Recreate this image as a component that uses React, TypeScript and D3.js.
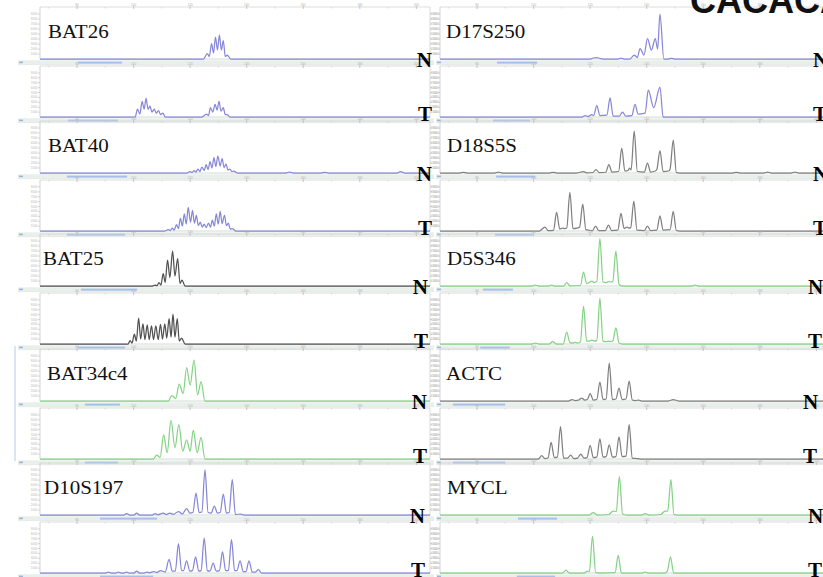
import * as d3 from "d3";

// marker names, left and right column
const leftMarkers = ["BAT26", "BAT40", "BAT25", "BAT34c4", "D10S197"];
const rightMarkers = ["D17S250", "D18S5S", "D5S346", "ACTC", "MYCL"];
const leftDyes = ["blue", "blue", "black", "green", "blue"];
const rightDyes = ["blue", "gray", "green", "gray", "green"];

// traces: [relative size (0-100), relative intensity (0-100)]
const bat26N = [[41.9,0],[42.9,11],[43.4,5],[44.0,31],[44.5,12],[45.0,44],[45.5,18],[46.0,48],[46.5,18],[47.0,37],[47.5,5],[48.0,8],[48.9,0]];
const bat26T = [[24.4,0],[25.0,16],[25.6,6],[26.2,32],[26.7,16],[27.2,38],[27.7,16],[28.2,22],[28.7,10],[29.3,16],[29.8,8],[30.4,13],[30.9,5],[31.5,8],[32.1,0],[41.5,0],[42.7,6],[43.2,3],[43.7,19],[44.3,10],[44.9,26],[45.4,14],[45.9,32],[46.4,12],[47.0,19],[47.5,5],[48.0,5],[48.7,0]];
const bat40N = [[37.6,0],[38.5,3],[39.0,1],[39.5,5],[40.0,2],[40.5,8],[41.0,3],[41.5,12],[42.1,5],[42.6,17],[43.1,7],[43.6,23],[44.1,10],[44.6,31],[45.1,13],[45.6,34],[46.2,14],[46.7,29],[47.2,11],[47.7,18],[48.2,6],[48.7,8],[49.2,3],[49.7,4],[50.6,0],[63,0],[64,2],[65,0],[72,0],[73,1.5],[74,0],[91.5,0],[92.5,3],[93.5,0]];
const bat40T = [[32.0,0],[32.9,3],[33.4,1],[33.9,6],[34.4,2],[35.0,13],[35.5,5],[36.0,26],[36.5,10],[37.0,35],[37.5,14],[38.0,48],[38.6,18],[39.1,42],[39.6,16],[40.1,32],[40.6,11],[41.1,18],[41.6,8],[42.1,14],[42.6,7],[43.2,16],[43.7,8],[44.2,22],[44.7,10],[45.2,35],[45.7,14],[46.2,40],[46.7,15],[47.3,32],[47.8,11],[48.3,16],[48.8,4],[49.3,5],[50.2,0]];
const bat25N = [[28.8,0],[29.5,2],[30.0,0.5],[30.5,7],[31.0,2],[31.6,25],[32.1,7],[32.7,52],[33.3,17],[34.0,70],[34.6,20],[35.3,55],[35.9,5],[36.4,12],[37.2,0]];
const bat25T = [[22.6,0],[23.1,7],[23.6,2],[24.2,20],[24.7,6],[25.3,53],[25.8,10],[26.4,41],[26.9,9],[27.5,39],[28.0,9],[28.6,37],[29.1,9],[29.7,37],[30.3,9],[30.9,40],[31.4,10],[32.0,41],[32.5,12],[33.1,52],[33.6,14],[34.1,61],[34.6,14],[35.2,52],[35.7,6],[36.3,12],[37.2,0]];
const bat34N = [[32.9,0],[33.8,11],[34.8,5],[35.7,34],[36.7,15],[37.6,67],[38.5,32],[39.5,82],[40.4,12],[41.3,39],[42.3,0]];
const bat34T = [[29.1,0],[29.9,8],[30.8,3],[31.7,49],[32.6,13],[33.6,79],[34.6,23],[35.6,70],[36.6,16],[37.6,39],[38.5,16],[39.3,59],[40.3,13],[41.3,44],[42.3,0]];
const d10N = [[21.5,0],[22.2,3],[23,0],[24.1,0],[24.8,4],[25.5,0],[28.8,0],[29.5,3],[30.2,0.5],[31.6,4],[32.4,1],[33.3,4],[34.2,1.5],[35.5,7],[36.5,2],[37.6,13],[38.4,4],[39.2,5],[40.0,44],[40.8,5],[41.5,6],[42.3,90],[43.1,5],[43.9,4],[44.7,18],[45.5,4],[46.2,5],[47.0,42],[47.8,4],[48.5,5],[49.3,71],[50.1,1],[51.5,2],[52.3,0]];
const d10T = [[16.8,0],[17.5,2],[18.3,0],[19.4,0],[20.1,2],[20.8,0],[21.5,0],[22.2,2],[22.9,0],[24.1,0],[24.8,4],[25.5,0],[26.7,0],[27.4,2],[28.1,0.5],[29.1,3],[30.0,1],[30.9,5],[32.1,2],[33.1,28],[33.9,4],[34.7,4],[35.5,60],[36.3,5],[36.8,5],[37.6,25],[38.4,4],[39.1,5],[39.9,33],[40.7,4],[41.3,5],[42.1,71],[42.9,5],[43.6,4],[44.4,20],[45.2,4],[46.0,5],[46.8,43],[47.6,5],[48.3,5],[49.1,68],[49.9,5],[50.5,5],[51.3,25],[52.1,3],[52.8,3],[53.6,25],[54.4,2],[55.2,2],[56.0,7],[56.8,0]];

const d17N = [[38.5,0],[39.3,2],[40.2,3],[41.0,1],[42,0],[45.6,0],[46.4,2],[47.2,0],[48.7,0],[49.8,8],[50.6,3],[51.3,21],[52.3,8],[53.2,41],[54.2,18],[55.2,41],[55.8,20],[56.4,90],[57.4,0],[58.5,0],[59.3,1.5],[60.2,0]];
const d17T = [[36.4,0],[37.2,3],[38.0,1],[38.9,5],[39.4,3],[40.2,23],[41.0,3],[42.8,4],[43.6,39],[44.4,2],[46.0,2],[46.8,10],[47.6,2],[49.2,3],[50.0,26],[50.8,6],[52.6,8],[53.4,55],[54.8,19],[56.4,61],[57.2,0]];
const d18N = [[5,0],[6,1.5],[7,0],[14,0],[15,2],[16,0],[28,0],[29,1.5],[30,0],[35.0,0],[36.8,3],[37.6,0.5],[39.2,1],[40.0,7],[40.8,1],[42.5,1.5],[43.3,17],[44.1,2],[45.8,3],[46.6,50],[47.4,4],[48.2,5],[48.6,10],[49.0,6],[49.8,84],[50.6,3],[52.4,2],[53.2,20],[54.0,2],[55.2,4],[55.6,7],[56.4,45],[57.2,3],[58.6,4],[59.0,8],[59.8,66],[60.6,1],[61.5,0],[75,0],[76,1.5],[77,0],[83,0],[84,2],[85,0],[90,0],[91,2],[92,0]];
const d18T = [[25.5,0],[26.9,8],[27.7,1],[29.1,1.5],[29.9,38],[30.7,4],[31.5,6],[32.0,5],[32.5,6],[33.3,79],[34.1,5],[35.2,6],[35.8,8],[36.6,55],[37.4,3],[39.1,1],[39.9,10],[40.7,1],[42.4,1],[43.2,12],[44.0,1],[45.6,2],[46.4,36],[47.2,5],[48.0,8],[48.4,6],[48.9,7],[49.7,61],[50.5,2],[52.4,1],[53.2,10],[54.0,1],[55.6,2],[56.4,31],[57.2,2],[59.0,3],[59.8,40],[60.6,1],[61.5,0]];
const d5N = [[23.5,0],[24.4,2],[25.4,0],[27.8,0],[28.6,2],[29.4,0],[31.7,0],[32.5,7],[33.3,0.5],[36.0,1],[36.8,28],[37.6,5],[38.5,8],[38.9,10],[39.5,7],[40.2,9],[41.0,95],[41.8,8],[42.6,7],[43.2,9],[43.8,8],[44.3,9],[45.1,70],[45.9,3],[46.8,0],[64.5,0],[65.4,2],[66.3,0]];
const d5T = [[23.5,0],[24.4,2],[25.4,0],[28.0,0],[28.9,5],[29.8,0],[31.6,0],[32.5,24],[33.3,3],[34.2,2],[34.6,4],[35.2,2],[36.0,4],[36.8,77],[37.6,6],[38.4,6],[38.9,8],[39.5,6],[40.2,7],[41.0,93],[41.8,6],[42.6,5],[43.2,6],[43.8,5],[44.3,6],[45.1,33],[45.9,2],[46.8,0]];
const actcN = [[33.0,0],[33.8,3],[34.7,1],[35.6,2],[36.3,6],[37.1,2],[37.8,3],[38.5,15],[39.3,2],[40.2,3],[41.0,38],[41.8,3],[42.6,4],[43.4,76],[44.2,3],[45.1,4],[45.9,26],[46.7,3],[47.7,4],[48.5,40],[49.3,2],[50.1,1],[50.9,2],[51.7,0],[58.5,0],[59.8,3],[61.2,0]];
const actcT = [[25.2,0],[26.1,7],[26.9,1],[27.7,2],[28.5,34],[29.3,3],[30.1,4],[30.9,66],[31.7,2],[32.7,2],[33.5,8],[34.3,1],[35.3,2],[36.1,10],[36.9,2],[37.7,3],[38.5,28],[39.3,3],[40.2,4],[41.0,41],[41.8,4],[42.6,5],[43.4,29],[44.2,4],[45.1,5],[45.9,45],[46.7,5],[47.7,6],[48.5,70],[49.3,2],[50.5,1],[51.3,0]];
const myclN = [[38.3,0],[39.3,5],[40.3,0],[43.3,1],[44.3,8],[45.2,7],[46.0,77],[46.8,2],[47.8,0],[51.8,0],[52.6,3],[53.6,0],[56.6,1],[57.7,8],[58.4,8],[59.2,71],[60.0,1],[61.0,0]];
const myclT = [[31.4,0],[32.3,6],[33.2,0],[37.0,0],[37.8,4],[38.3,3],[39.1,75],[39.9,1],[41.0,0],[44.9,1],[45.7,36],[46.5,0],[51.8,0],[52.6,2],[53.4,0],[57.6,0],[58.3,4],[59.1,33],[59.9,0]];

const leftTraces = [[bat26N, bat26T], [bat40N, bat40T], [bat25N, bat25T], [bat34N, bat34T], [d10N, d10T]];
const rightTraces = [[d17N, d17T], [d18N, d18T], [d5N, d5T], [actcN, actcT], [myclN, myclT]];

// scroll bar extents (relative size) under N and under T
const leftScrollN = [[9.7,21.0],[6.9,22.3],[10.5,24.9],[11.5,20.5],[15.4,30.0]];
const leftScrollT = [[7.2,20.0],[6.9,21.8],[9.7,21.8],[11.5,20.0],[15.4,29.0]];
const rightScrollN = [[14.6,24.9],[14.4,24.4],[11.0,18.7],[3.3,16.7],[20.0,30.0]];
const rightScrollT = [[13.6,23.1],[14.1,23.8],[10.3,17.9],[3.3,16.7],[19.7,29.5]];

const topTicks = [9.5, 24, 38.5, 53, 67.5, 82, 96.5];
const topTickLabels = ["80", "100", "120", "140", "160", "180", "200"];
const sideTicks = [10, 20, 30, 40, 50, 60, 70, 80, 90];

const dyeColors: Record<string, string> = {
  blue: "#8787d8",
  black: "#505050",
  gray: "#808080",
  green: "#86d286",
};

const rowTops = [1, 115, 228, 343, 457];
const cols = [
  { x0: 40, x1: 430, labelX: [48, 48, 43, 47, 44], ntX: [432, 432, 428, 427, 425], anchor: "end" },
  { x0: 440, x1: 830, labelX: [446, 447, 447, 446, 447], ntX: [813, 813, 808, 803, 808], anchor: "start" },
];

function SubPanel({ x0, x1, top, base, data, color, scroll, stripLeft, rightAxis }: any) {
  const x = d3.scaleLinear().domain([0, 100]).range([x0, x1]);
  const y = d3.scaleLinear().domain([0, 100]).range([base, top + 2]);
  const line = d3.line<number[]>().x(d => x(d[0])).y(d => y(d[1])).curve(d3.curveMonotoneX);
  const pts = [[0, 0], ...data, [100, 0]];
  const minor = d3.range(0, 100, 7.25);
  return (
    <g>
      {/* top axis */}
      <line x1={x0} x2={x1} y1={top} y2={top} stroke="#d4d4d4" strokeWidth={0.8} />
      {minor.map((t, i) => (
        <line key={"m" + i} x1={x(t + 2.25)} x2={x(t + 2.25)} y1={top} y2={top + 1.5} stroke="#c8c8c8" strokeWidth={0.6} />
      ))}
      {topTicks.map((t, i) => (
        <g key={"t" + i}>
          <line x1={x(t)} x2={x(t)} y1={top - 1.5} y2={top + 2} stroke="#bdbdbd" strokeWidth={0.7} />
          <text x={x(t)} y={top - 1.2} fontSize={3.2} fill="#b4b4b4" textAnchor="middle" fontFamily="Arial">{topTickLabels[i]}</text>
        </g>
      ))}
      {/* left axis */}
      <line x1={x0} x2={x0} y1={top} y2={base} stroke="#c8c8c8" strokeWidth={0.8} />
      {sideTicks.map((t, i) => (
        <g key={"l" + i}>
          <line x1={x0 - 2} x2={x0} y1={y(t)} y2={y(t)} stroke="#bcbcbc" strokeWidth={0.6} />
          <text x={x0 - 2.5} y={y(t) + 1} fontSize={3} fill="#b8b8b8" textAnchor="end" fontFamily="Arial">{t * 100}</text>
        </g>
      ))}
      {rightAxis && (
        <g>
          <line x1={x1} x2={x1} y1={top} y2={base} stroke="#d0d0d0" strokeWidth={0.8} />
          {sideTicks.map((t, i) => (
            <g key={"r" + i}>
              <line x1={x1} x2={x1 + 2} y1={y(t)} y2={y(t)} stroke="#bcbcbc" strokeWidth={0.6} />
              <text x={x1 + 2.5} y={y(t) + 1} fontSize={3} fill="#b8b8b8" fontFamily="Arial">{t * 100}</text>
            </g>
          ))}
        </g>
      )}
      {/* baseline */}
      <line x1={x0} x2={x1} y1={base} y2={base} stroke="#c9d2c9" strokeWidth={0.8} />
      {/* trace */}
      <path d={line(pts as any) || ""} fill="none" stroke={color} strokeWidth={1.25} strokeLinejoin="round" />
      {/* scroll strip */}
      <rect x={stripLeft} y={base + 1.3} width={x1 + 4 - stripLeft} height={4.4} fill="#e9efeb" />
      <line x1={stripLeft} x2={x1 + 4} y1={base + 5.7} y2={base + 5.7} stroke="#dde4df" strokeWidth={0.6} />
      <rect x={x(scroll[0])} y={base + 2.6} width={x(scroll[1]) - x(scroll[0])} height={2} fill="#a6c0ec" />
      <rect x={stripLeft + 1} y={base + 2.6} width={4} height={1.6} fill="#9fb2dc" />
    </g>
  );
}

export default function App() {
  const W = 823;
  const H = 577;
  return (
    <svg width={W} height={H} style={{ position: "absolute", left: 0, top: 0, background: "#fff" }}>
      <rect width={W} height={H} fill="#fff" />
      {/* faint vertical marker near left */}
      <line x1={15} x2={15} y1={346} y2={461} stroke="#b9cbe8" strokeWidth={1} />
      {cols.map((c, ci) => {
        const markers = ci === 0 ? leftMarkers : rightMarkers;
        const dyes = ci === 0 ? leftDyes : rightDyes;
        const traces = ci === 0 ? leftTraces : rightTraces;
        const sN = ci === 0 ? leftScrollN : rightScrollN;
        const sT = ci === 0 ? leftScrollT : rightScrollT;
        const stripLeft = ci === 0 ? 18 : 436;
        return (
          <g key={ci}>
            {markers.map((m, ri) => {
              const r0 = rowTops[ri];
              const color = dyeColors[dyes[ri]];
              return (
                <g key={m}>
                  <SubPanel x0={c.x0} x1={c.x1} top={r0 + 6} base={r0 + 58} data={traces[ri][0]} color={color}
                    scroll={sN[ri]} stripLeft={stripLeft} rightAxis={ci === 0} />
                  <SubPanel x0={c.x0} x1={c.x1} top={r0 + 65} base={r0 + 116} data={traces[ri][1]} color={color}
                    scroll={sT[ri]} stripLeft={stripLeft} rightAxis={ci === 0} />
                  <text transform={`translate(${c.labelX[ri]},${r0 + 37}) scale(1.13,1)`} fontSize={18.6}
                    fontFamily="'Liberation Serif', 'Times New Roman', serif" fill="#111">{m}</text>
                </g>
              );
            })}
          </g>
        );
      })}
      {/* N / T labels */}
      {cols.map((c, ci) =>
        rowTops.map((r0, ri) => (
          <g key={`nt${ci}-${ri}`} fontFamily="'Liberation Serif', 'Times New Roman', serif" fontWeight="bold" fontSize={21} fill="#000">
            <text x={c.ntX[ri]} y={r0 + 66} textAnchor={c.anchor as any}>N</text>
            <text x={c.ntX[ri]} y={Math.min(r0 + 120, 577)} textAnchor={c.anchor as any}>T</text>
          </g>
        ))
      )}
      {/* clipped heading at top right */}
      <text x={690} y={13} fontFamily="'Liberation Sans', Arial, sans-serif" fontWeight="bold" fontSize={36} fill="#111">CACACA</text>
    </svg>
  );
}
